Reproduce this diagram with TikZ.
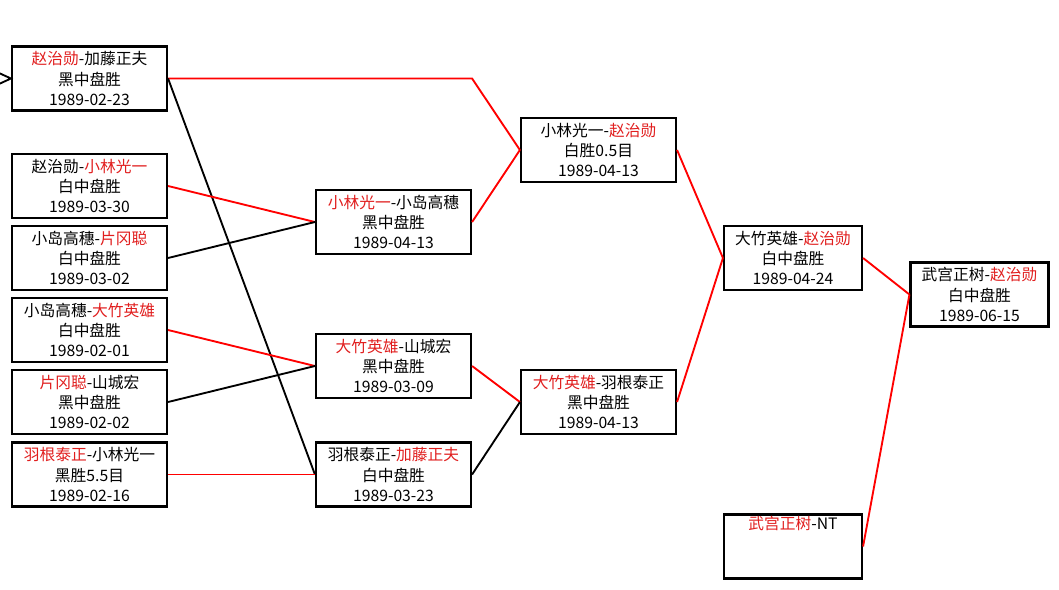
\documentclass[tikz,border=0pt]{standalone}
\usepackage{fontspec}
\setmainfont{Noto Sans CJK SC}
\usetikzlibrary{arrows.meta}

\begin{document}
\begin{tikzpicture}[x=0.75pt, y=-0.75pt, >=Stealth,
    game/.style={draw, line width=1.6pt, fill=white, minimum width=155*0.75pt,
      minimum height=64*0.75pt, align=center, font=\fontsize{11.8}{15.2}\selectfont,
      inner sep=0pt},
    narrow/.style={game, minimum width=138*0.75pt},
    win/.style={draw=red, line width=1.4pt},
    lose/.style={draw=black, line width=1.4pt}]

  % 参数定义
  \def\W#1{\textcolor[RGB]{225,30,30}{#1}}  % 胜者红字
  \def\cA{89.5}   % 第一列
  \def\cB{393.5}  % 第二列
  \def\cC{598.5}  % 第三列
  \def\cD{793}    % 第四列
  \def\cE{979.5}  % 决赛

  \useasboundingbox (0,0) rectangle (1059,589);

  % 1. 第一轮
  \node[game] (a1) at (\cA, 78.5) {\W{赵治勋}-加藤正夫\\黑中盘胜\\1989-02-23};
  \node[game] (a2) at (\cA, 186) {赵治勋-\W{小林光一}\\白中盘胜\\1989-03-30};
  \node[game] (a3) at (\cA, 258) {小岛高穗-\W{片冈聪}\\白中盘胜\\1989-03-02};
  \node[game] (a4) at (\cA, 330) {小岛高穗-\W{大竹英雄}\\白中盘胜\\1989-02-01};
  \node[game] (a5) at (\cA, 402) {\W{片冈聪}-山城宏\\黑中盘胜\\1989-02-02};
  \node[game] (a6) at (\cA, 474.5) {\W{羽根泰正}-小林光一\\黑胜5.5目\\1989-02-16};

  % 2. 第二轮
  \node[game] (b1) at (\cB, 222) {\W{小林光一}-小岛高穗\\黑中盘胜\\1989-04-13};
  \node[game] (b2) at (\cB, 366) {\W{大竹英雄}-山城宏\\黑中盘胜\\1989-03-09};
  \node[game] (b3) at (\cB, 474.5) {羽根泰正-\W{加藤正夫}\\白中盘胜\\1989-03-23};

  % 3. 第三轮
  \node[game] (c1) at (\cC, 150) {小林光一-\W{赵治勋}\\白胜0.5目\\1989-04-13};
  \node[game] (c2) at (\cC, 402) {\W{大竹英雄}-羽根泰正\\黑中盘胜\\1989-04-13};

  % 4. 第四轮及决赛
  \node[narrow] (d1) at (\cD, 258) {大竹英雄-\W{赵治勋}\\白中盘胜\\1989-04-24};
  \node[narrow] (d2) at (\cD, 546.5) {\W{武宫正树}-NT\\\strut\\\strut};
  \node[narrow] (e1) at (\cE, 294.5) {武宫正树-\W{赵治勋}\\白中盘胜\\1989-06-15};

  % 5. 对阵连线
  % 入口箭头 (只露出箭头部分)
  \draw[lose] (a1.west) ++(-13,-6) -- (a1.west) -- ++(-13,6);

  \draw[win] (a1.east) -- (a1.east -| b1.east) -- (c1.west);
  \draw[lose] (a1.east) -- (b3.west);
  \draw[win] (a2.east) -- (b1.west);
  \draw[lose] (a3.east) -- (b1.west);
  \draw[win] (a4.east) -- (b2.west);
  \draw[lose] (a5.east) -- (b2.west);
  \draw[win] (a6.east) -- (b3.west);

  \draw[win] (b1.east) -- (c1.west);
  \draw[win] (b2.east) -- (c2.west);
  \draw[lose] (b3.east) -- (c2.west);

  \draw[win] (c1.east) -- (d1.west);
  \draw[win] (c2.east) -- (d1.west);

  \draw[win] (d1.east) -- (e1.west);
  \draw[win] (d2.east) -- (e1.west);

\end{tikzpicture}
\end{document}
